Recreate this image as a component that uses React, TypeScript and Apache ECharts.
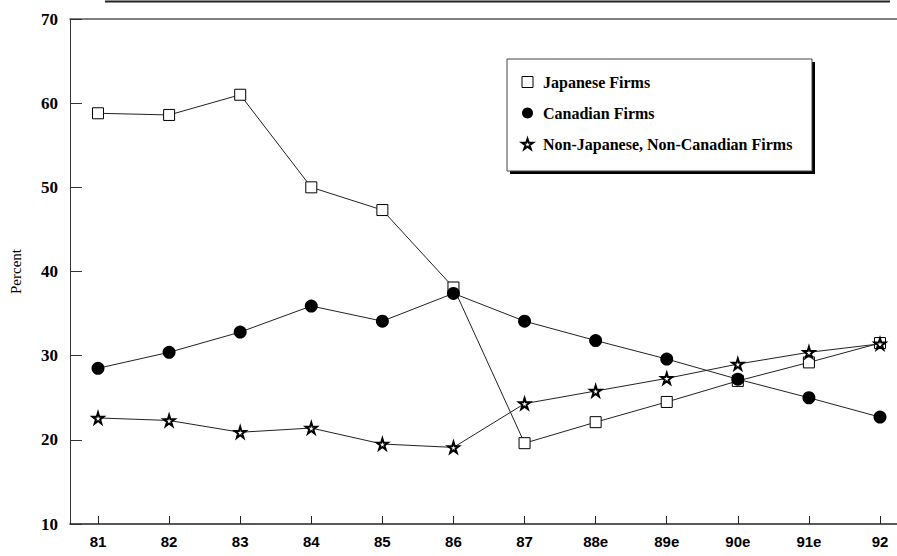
import React, { useEffect, useRef } from "react";
import * as echarts from "echarts";

const categories = ["81", "82", "83", "84", "85", "86", "87", "88e", "89e", "90e", "91e", "92"];
const japanese = [58.8, 58.6, 61.0, 50.0, 47.3, 38.1, 19.6, 22.1, 24.5, 27.0, 29.2, 31.5];
const canadian = [28.5, 30.4, 32.8, 35.9, 34.1, 37.4, 34.1, 31.8, 29.6, 27.2, 25.0, 22.7];
const others = [22.6, 22.3, 20.9, 21.4, 19.5, 19.1, 24.3, 25.8, 27.3, 29.0, 30.4, 31.4];
const yTicks = [10, 20, 30, 40, 50, 60, 70];
const seriesNames = ["Japanese Firms", "Canadian Firms", "Non-Japanese, Non-Canadian Firms"];

const STAR = "path://M50,0 L61,35 L98,35 L68,57 L79,91 L50,70 L21,91 L32,57 L2,35 L39,35 Z";

const toPoints = (vals: number[]) => vals.map((v, i) => [i, v]);

export default function App() {
  const ref = useRef<HTMLDivElement>(null);
  useEffect(() => {
    if (!ref.current) return;
    const chart = echarts.init(ref.current, undefined, { renderer: "svg" });
    const idx = categories.map((_, i) => i);
    const lineStyle = { color: "#222", width: 1 };
    chart.setOption({
      animation: false,
      backgroundColor: "#fff",
      grid: { left: 70, right: 0, top: 19, bottom: 32, outerBoundsMode: "none", containLabel: false },
      xAxis: [
        {
          type: "value",
          min: -0.394,
          max: 11.239,
          splitLine: { show: false },
          axisLine: { show: true, onZero: false, lineStyle: { color: "#222", width: 1.5 } },
          axisTick: { show: true, inside: true, length: 8, customValues: idx, lineStyle: { color: "#222", width: 1 } },
          axisLabel: {
            customValues: idx,
            formatter: (v: number) => categories[Math.round(v)] ?? "",
            fontFamily: "Liberation Sans",
            fontWeight: "bold",
            fontSize: 15,
            color: "#000",
            margin: 10,
          },
        },
        {
          type: "value",
          position: "top",
          min: -0.394,
          max: 11.239,
          splitLine: { show: false },
          axisLine: { show: true, onZero: false, lineStyle: { color: "#555", width: 1.5 } },
          axisTick: { show: false },
          axisLabel: { show: false },
        },
      ],
      yAxis: {
        type: "value",
        min: yTicks[0],
        max: yTicks[yTicks.length - 1],
        interval: 10,
        name: "Percent",
        nameLocation: "middle",
        nameRotate: 90,
        nameGap: 47,
        nameTextStyle: { fontFamily: "Liberation Serif", fontSize: 15, color: "#000" },
        splitLine: { show: false },
        axisLine: { show: true, onZero: false, lineStyle: { color: "#333", width: 1 } },
        axisTick: { show: true, inside: true, length: 12, lineStyle: { color: "#333", width: 1 } },
        axisLabel: {
          fontFamily: "Liberation Serif",
          fontWeight: "bold",
          fontSize: 17,
          color: "#000",
          margin: 12,
        },
      },
      legend: {
        orient: "vertical",
        left: 521,
        top: 74,
        padding: 0,
        itemGap: 15,
        itemWidth: 11,
        itemHeight: 11,
        textStyle: {
          fontFamily: "Liberation Serif",
          fontWeight: "bold",
          fontSize: 16,
          color: "#000",
          padding: [0, 0, 0, 5],
        },
        data: [
          { name: seriesNames[0], icon: "rect", itemStyle: { color: "#fff", borderColor: "#000", borderWidth: 1 } },
          { name: seriesNames[1], icon: "circle", itemStyle: { color: "#000" } },
          { name: seriesNames[2], icon: STAR, itemStyle: { color: "#fff", borderColor: "#000", borderWidth: 2 } },
        ],
      },
      graphic: [
        { type: "rect", shape: { x: 510, y: 62, width: 305, height: 112 }, style: { fill: "#000" }, z: 0 },
        { type: "rect", shape: { x: 507, y: 59, width: 305, height: 112 }, style: { fill: "#fff", stroke: "#444", lineWidth: 1 }, z: 1 },
        { type: "line", shape: { x1: 105, y1: 1.5, x2: 890, y2: 1.5 }, style: { stroke: "#222", lineWidth: 2 } },
      ],
      series: [
        {
          name: seriesNames[0],
          type: "line",
          data: toPoints(japanese),
          symbol: "rect",
          symbolSize: 11,
          itemStyle: { color: "#fff", borderColor: "#000", borderWidth: 1 },
          lineStyle,
          z: 3,
        },
        {
          name: seriesNames[1],
          type: "line",
          data: toPoints(canadian),
          symbol: "circle",
          symbolSize: 13,
          itemStyle: { color: "#000", borderColor: "#000", borderWidth: 0 },
          lineStyle,
          z: 4,
        },
        {
          name: seriesNames[2],
          type: "line",
          data: toPoints(others),
          symbol: STAR,
          symbolSize: 11,
          itemStyle: { color: "#fff", borderColor: "#000", borderWidth: 2 },
          lineStyle,
          z: 5,
        },
      ],
    });
    return () => chart.dispose();
  }, []);
  return <div ref={ref} style={{ position: "absolute", left: 0, top: 0, width: 897, height: 556 }} />;
}
